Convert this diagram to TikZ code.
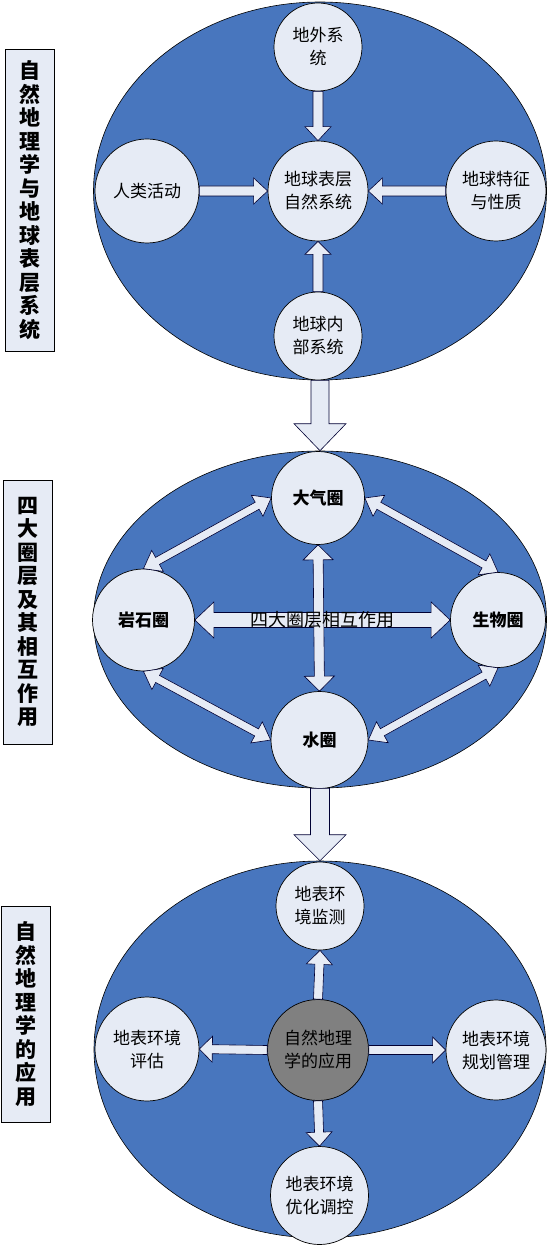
\documentclass[tikz,border=0pt]{standalone}
\usepackage{fontspec}
\newfontfamily\cjk{Noto Sans CJK SC}
\usepackage{tikz}
\usetikzlibrary{calc,shapes.geometric}
\definecolor{ovalblue}{RGB}{72,118,190}
\definecolor{palefill}{RGB}{230,235,245}
\definecolor{coregray}{RGB}{128,128,128}

\tikzset{
  bigoval/.style={ellipse,draw=black,fill=ovalblue,line width=0.6pt,inner sep=0pt},
  ball/.style={circle,draw=black,fill=palefill,line width=0.7pt,inner sep=0pt,align=center,
    font=\cjk\fontsize{17}{23}\selectfont},
  sphere/.style={ball,font=\cjk\bfseries\fontsize{17}{23}\selectfont},
  titlebox/.style={draw=black,fill=palefill,line width=0.7pt,inner sep=0pt,align=center,
    minimum width=49,font=\cjk\bfseries\fontsize{21}{23.5}\selectfont},
  fatline/.style={draw=black!80!blue,fill=palefill,line width=0.6pt,line join=miter},
}

% block arrow: start, tip, half shaft, half head, head length
\newcommand{\fatarrow}[5]{%
  \coordinate (fa-s) at (#1);
  \coordinate (fa-t) at (#2);
  \coordinate (fa-h) at ($(fa-t)!#5!(fa-s)$);
  \path[fatline] ($(fa-s)!#3!90:(fa-t)$) -- ($(fa-h)!#3!-90:(fa-s)$)
    -- ($(fa-h)!#4!-90:(fa-s)$) -- (fa-t) -- ($(fa-h)!#4!90:(fa-s)$)
    -- ($(fa-h)!#3!90:(fa-s)$) -- ($(fa-s)!#3!-90:(fa-t)$) -- cycle;
}
% block arrow with two heads
\newcommand{\fatdarrow}[5]{%
  \coordinate (fa-s) at (#1);
  \coordinate (fa-t) at (#2);
  \coordinate (fa-a) at ($(fa-s)!#5!(fa-t)$);
  \coordinate (fa-b) at ($(fa-t)!#5!(fa-s)$);
  \path[fatline] (fa-s) -- ($(fa-a)!#4!90:(fa-t)$) -- ($(fa-a)!#3!90:(fa-t)$)
    -- ($(fa-b)!#3!-90:(fa-s)$) -- ($(fa-b)!#4!-90:(fa-s)$) -- (fa-t)
    -- ($(fa-b)!#4!90:(fa-s)$) -- ($(fa-b)!#3!90:(fa-s)$)
    -- ($(fa-a)!#3!-90:(fa-t)$) -- ($(fa-a)!#4!-90:(fa-t)$) -- cycle;
}

\begin{document}
\begin{tikzpicture}[x=1pt,y=-1pt]
\useasboundingbox (0,0) rectangle (548,1246);

% panel 1
\node[bigoval,minimum width=453,minimum height=378] (sysoval) at (320,191) {};
\node[titlebox,minimum height=302] (title1) at (29.5,200) {自\\然\\地\\理\\学\\与\\地\\球\\表\\层\\系\\统};
\node[ball,minimum size=88] (ext) at (318,47) {地外系\\统};
\node[ball,minimum size=100] (core) at (318,191) {地球表层\\自然系统};
\node[ball,minimum size=104] (human) at (147,191) {人类活动};
\node[ball,minimum size=100] (feat) at (496,191) {地球特征\\与性质};
\node[ball,minimum size=88] (inner) at (318,336) {地球内\\部系统};
\fatarrow{ext.south}{core.north}{5pt}{13pt}{14pt}
\fatarrow{human.east}{core.west}{5pt}{13pt}{14pt}
\fatarrow{feat.west}{core.east}{5pt}{13pt}{14pt}
\fatarrow{inner.north}{core.south}{5pt}{13pt}{13pt}

% panel 2
\node[bigoval,minimum width=453,minimum height=337] (sphoval) at (320,619.5) {};
\node[titlebox,minimum height=264] (title2) at (28,612) {四\\大\\圈\\层\\及\\其\\相\\互\\作\\用};
\node[sphere,minimum size=93] (atm) at (318,498) {大气圈};
\node[sphere,minimum size=102] (rock) at (143.5,620) {岩石圈};
\node[sphere,minimum size=95] (bio) at (498,620) {生物圈};
\node[sphere,minimum size=97] (water) at (319.5,740) {水圈};
\fatdarrow{atm.west}{rock.north}{4pt}{12pt}{16pt}
\fatdarrow{atm.east}{bio.north}{4pt}{12pt}{16pt}
\fatdarrow{rock.south}{water.west}{4pt}{12pt}{16pt}
\fatdarrow{bio.south}{water.east}{4pt}{12pt}{16pt}
\fatdarrow{rock.east}{bio.west}{7.5pt}{18pt}{19pt}
\fatdarrow{atm.south}{water.north}{5pt}{15pt}{15pt}
\node[font=\cjk\fontsize{18}{18}\selectfont,inner sep=0pt] (mutual)
  at ($(rock.east)!0.5!(bio.west)$) {四大圈层相互作用};

% panel 3
\node[bigoval,minimum width=452,minimum height=377] (appoval) at (320,1049.5) {};
\node[titlebox,minimum height=216] (title3) at (26,1014) {自\\然\\地\\理\\学\\的\\应\\用};
\node[ball,minimum size=88] (watch) at (320,906) {地表环\\境监测};
\node[ball,fill=coregray,minimum size=101] (apply) at (318,1050) {自然地理\\学的应用};
\node[ball,minimum size=104] (assess) at (147,1049) {地表环境\\评估};
\node[ball,minimum size=100] (plan) at (496,1050) {地表环境\\规划管理};
\node[ball,minimum size=98] (tune) at (319.5,1195.5) {地表环境\\优化调控};
\fatarrow{apply.north}{watch.south}{4.5pt}{13pt}{14pt}
\fatarrow{apply.west}{assess.east}{4.5pt}{13pt}{13pt}
\fatarrow{apply.east}{plan.west}{4.5pt}{13pt}{13pt}
\fatarrow{apply.south}{tune.north}{4.5pt}{13pt}{14pt}

% links between panels
\fatarrow{sysoval.south}{sphoval.north}{9pt}{26pt}{27pt}
\fatarrow{sphoval.south}{appoval.north}{9.5pt}{26pt}{26pt}
\end{tikzpicture}
\end{document}
